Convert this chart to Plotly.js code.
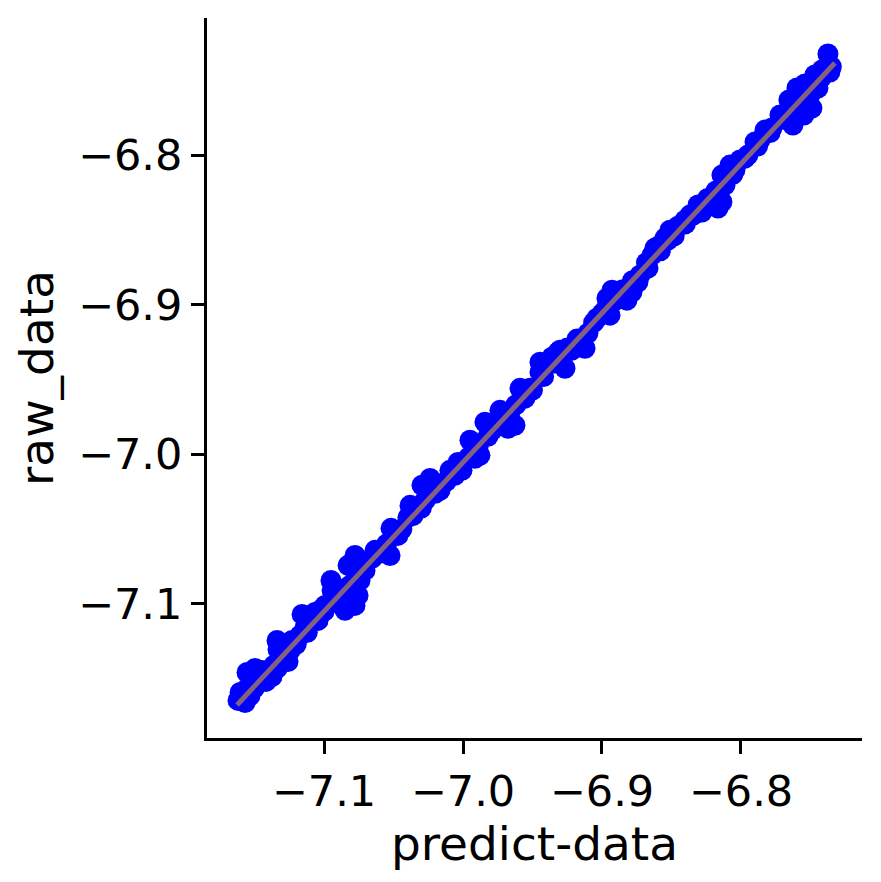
<!DOCTYPE html>
<html>
<head>
<meta charset="utf-8">
<script src="https://cdn.plot.ly/plotly-3.0.1.min.js"></script>
<style>html,body{margin:0;padding:0;background:#fff;}#chart{width:881px;height:882px;}</style>
</head>
<body>
<div id="chart"></div>
<script>
// predicted values (x) and raw values (y)
const predictX = [
  -7.1619, -7.1604, -7.1568, -7.1532, -7.1554, -7.1554, -7.1496, -7.1446, -7.1475, -7.1518,
  -7.1417, -7.1374, -7.1338, -7.1338, -7.1331, -7.1295, -7.1245, -7.1259, -7.1317, -7.1230,
  -7.1173, -7.1137, -7.1101, -7.1065, -7.1029, -7.1043, -7.1158, -7.0993, -7.0950, -7.0942,
  -7.0885, -7.0849, -7.0777, -7.0755, -7.0741, -7.0777, -7.0827, -7.0705, -7.0813, -7.0633,
  -7.0561, -7.0525, -7.0655, -7.0518, -7.0468, -7.0396, -7.0324, -7.0381, -7.0295, -7.0223,
  -7.0237, -7.0273, -7.0165, -7.0094, -7.0036, -7.0058, -7.0007, -6.9950, -6.9892, -6.9914,
  -6.9878, -6.9842, -6.9791, -6.9734, -6.9662, -6.9698, -6.9590, -6.9554, -6.9676, -6.9626,
  -6.9518, -6.9576, -6.9446, -6.9446, -6.9360, -6.9317, -6.9266, -6.9302, -6.9158, -6.9101,
  -6.9122, -6.9216, -6.9036, -6.8978, -6.8942, -6.8928, -6.8964, -6.8820, -6.8784, -6.8727,
  -6.8669, -6.8741, -6.8640, -6.8583, -6.8547, -6.8619, -6.8511, -6.8453, -6.8525, -6.8309,
  -6.8367, -6.8281, -6.8165, -6.8137, -6.8137, -6.8079, -6.8043, -6.8115, -6.8007, -6.7971,
  -6.7899, -6.7827, -6.7777, -6.7655, -6.7647, -6.7626, -6.7597, -6.7540, -6.7504, -6.7489,
  -6.7547, -6.7576, -6.7468, -6.7417, -6.7374, -6.7360, -6.7374, -6.7719, -6.8403, -6.7863,
  -6.7446,
  -7.158, -7.150, -7.142, -7.136, -7.128, -7.120, -7.112, -7.100, -7.092, -7.086,
  -7.079, -7.072, -7.060, -7.055, -7.044, -7.036, -7.030, -7.020, -7.012, -7.004,
  -6.996, -6.982, -6.976, -6.962, -6.950, -6.942, -6.934, -6.925, -6.918, -6.906,
  -6.900, -6.890, -6.885, -6.878, -6.868, -6.858, -6.848, -6.840, -6.834, -6.824,
  -6.818, -6.806, -6.795, -6.788, -6.779, -6.770, -6.760, -6.752, -6.742, -6.735
];
const rawY = [
  -7.1645, -7.1592, -7.1659, -7.1612, -7.1565, -7.1458, -7.1431, -7.1445, -7.1498, -7.1518,
  -7.1518, -7.1485, -7.1431, -7.1244, -7.1304, -7.1351, -7.1311, -7.1385, -7.1398, -7.1244,
  -7.1211, -7.1157, -7.1110, -7.1057, -7.1043, -7.1110, -7.1070, -7.1010, -7.0843, -7.0910,
  -7.0923, -7.1043, -7.1010, -7.0943, -7.0843, -7.0676, -7.0742, -7.0776, -7.0876, -7.0642,
  -7.0642, -7.0676, -7.0696, -7.0495, -7.0542, -7.0421, -7.0348, -7.0341, -7.0207, -7.0227,
  -7.0161, -7.0308, -7.0241, -7.0107, -7.0054, -7.0140, -7.0107, -6.9906, -6.9953, -7.0027,
  -7.0007, -6.9786, -6.9839, -6.9706, -6.9759, -6.9806, -6.9559, -6.9625, -6.9826, -6.9806,
  -6.9559, -6.9585, -6.9451, -6.9385, -6.9351, -6.9318, -6.9425, -6.9304, -6.9237, -6.9191,
  -6.9291, -6.9304, -6.9090, -6.9037, -6.9070, -6.8903, -6.8957, -6.8970, -6.8916, -6.8803,
  -6.8756, -6.8849, -6.8669, -6.8602, -6.8555, -6.8622, -6.8502, -6.8475, -6.8569, -6.8334,
  -6.8401, -6.8381, -6.8354, -6.8314, -6.8134, -6.8067, -6.8100, -6.8201, -6.8033, -6.8020,
  -6.7913, -6.7833, -6.7819, -6.7632, -6.7732, -6.7799, -6.7552, -6.7525, -6.7599, -6.7686,
  -6.7732, -6.7632, -6.7465, -6.7431, -6.7398, -6.7445, -6.7324, -6.7732, -6.8435, -6.7900,
  -6.7552,
  -7.162, -7.156, -7.146, -7.141, -7.132, -7.127, -7.119, -7.105, -7.099, -7.090,
  -7.086, -7.076, -7.066, -7.060, -7.050, -7.041, -7.036, -7.026, -7.018, -7.009,
  -7.002, -6.988, -6.981, -6.967, -6.957, -6.948, -6.939, -6.929, -6.923, -6.912,
  -6.906, -6.897, -6.890, -6.884, -6.872, -6.864, -6.854, -6.846, -6.840, -6.829,
  -6.824, -6.813, -6.800, -6.794, -6.785, -6.776, -6.767, -6.758, -6.748, -6.741
];
// fitted regression line end points
const fitX = [-7.1626, -6.7324];
const fitY = [-7.1675, -6.7385];
// reference (orange) line end points
const refX = [-7.165, -6.731];
const refY = [-7.1686, -6.7359];
// tick labels
const xTickVals = [-7.1, -7.0, -6.9, -6.8];
const xTickText = ['\u22127.1', '\u22127.0', '\u22126.9', '\u22126.8'];
const yTickVals = [-7.1, -7.0, -6.9, -6.8];
const yTickText = ['\u22127.1', '\u22127.0', '\u22126.9', '\u22126.8'];

const FONT = 'DejaVu Sans, Liberation Sans, sans-serif';

const traces = [
  {x: refX, y: refY, mode: 'lines', type: 'scatter', line: {color: '#fdca7c', width: 8}, hoverinfo: 'skip', showlegend: false},
  {x: predictX, y: rawY, mode: 'markers', type: 'scatter', marker: {color: '#0000ff', size: 21, line: {width: 0}}, showlegend: false},
  {x: fitX, y: fitY, mode: 'lines', type: 'scatter', line: {color: '#84617e', width: 5}, hoverinfo: 'skip', showlegend: false}
];

const axisCommon = {
  showgrid: false, zeroline: false, showline: true, linecolor: '#000', linewidth: 3,
  ticks: 'outside', ticklen: 13, tickwidth: 3, tickcolor: '#000',
  tickfont: {family: FONT, size: 43, color: '#000'}, automargin: false
};

const layout = {
  width: 881, height: 882,
  margin: {l: 207, r: 19, t: 18, b: 144, pad: 0},
  paper_bgcolor: '#fff', plot_bgcolor: '#fff',
  showlegend: false,
  xaxis: Object.assign({}, axisCommon, {
    range: [-7.1842, -6.7129], tickvals: xTickVals, ticktext: xTickText,
    title: {text: 'predict-data', font: {family: FONT, size: 47, color: '#000'}, standoff: 10}
  }),
  yaxis: Object.assign({}, axisCommon, {
    range: [-7.1896, -6.7084], tickvals: yTickVals, ticktext: yTickText,
    title: {text: 'raw_data', font: {family: FONT, size: 47, color: '#000'}, standoff: 10}
  })
};

Plotly.newPlot('chart', traces, layout, {displayModeBar: false, staticPlot: true});
</script>
</body>
</html>
